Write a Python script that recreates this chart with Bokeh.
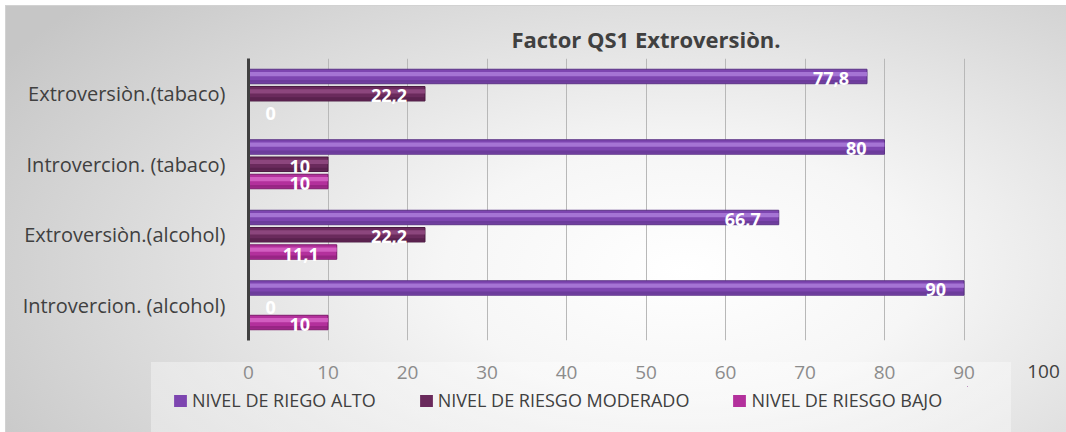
from bokeh.plotting import figure
from bokeh.layouts import column
from bokeh.models import (ColumnDataSource, FactorRange, Legend, LegendItem, LinearAxis,
                          FixedTicker, Title)
from bokeh.transform import dodge
from bokeh.core.properties import value
from bokeh.embed import file_html
from bokeh.resources import INLINE

# ---------------- data ----------------
categories = ["Introvercion. (alcohol)", "Extroversiòn.(alcohol)",
              "Introvercion. (tabaco)", "Extroversiòn.(tabaco)"]
riesgo_alto = [90, 66.7, 80, 77.8]
riesgo_moderado = [0, 22.2, 10, 22.2]
riesgo_bajo = [10, 11.1, 10, 0]
series_names = ["NIVEL DE RIEGO ALTO", "NIVEL DE RIESGO MODERADO", "NIVEL DE RIESGO BAJO"]
x_ticks_in_box = [0, 10, 20, 30, 40, 50, 60, 70, 80, 90]
x_ticks_outside = [100]
title_text = "Factor QS1 Extroversiòn."

# ---------------- styles ----------------
FONT = "Open Sans"
styles = [
    # base, edge, highlight, dodge offset
    ("#7d45b0", "#5b3385", "#b384e0", 0.245),
    ("#6a2a5c", "#4a1a40", "#985088", 0.0),
    ("#b3309c", "#7d1a6c", "#dc6ccc", -0.245),
]
BAR_H = 0.205

def fmt(v):
    return ("%g" % v).replace(".", ",")

p = figure(width=1066, height=386, frame_width=795, frame_height=282,
           y_range=FactorRange(*categories), x_range=(0, 100),
           output_backend="svg", toolbar_location=None,
           min_border_left=248, min_border_right=23, min_border_top=58, min_border_bottom=46)
p.border_fill_color = None
p.background_fill_color = None
p.outline_line_color = None

t = Title(text=title_text, align="center", text_font=FONT, text_font_size="22px",
          text_font_style="bold", text_color="#404040", standoff=9)
p.add_layout(t, "above")

# legend strip below the chart
pl = figure(width=1066, height=46, x_range=(0, 1), y_range=(0, 1),
            x_axis_type=None, y_axis_type=None, output_backend="svg", toolbar_location=None,
            min_border=0, min_border_left=0, min_border_right=0, min_border_top=0, min_border_bottom=0)
pl.border_fill_color = None
pl.background_fill_color = None
pl.outline_line_color = None
pl.grid.visible = False
pl.styles = {"transform": "translateX(-76px)"}

legend_items = []
for vals, name, (base, edge, hi, off) in zip([riesgo_alto, riesgo_moderado, riesgo_bajo], series_names, styles):
    src = ColumnDataSource(dict(
        cat=categories, val=vals,
        lbl=[fmt(v) for v in vals],
        align=["left" if v == 0 else "right" for v in vals],
        xoff=[17 if v == 0 else -18 for v in vals],
    ))
    p.hbar(y=dodge("cat", off, range=p.y_range), right="val", left=0, height=BAR_H, source=src,
           fill_color=base, line_color=edge, line_width=1)
    p.hbar(y=dodge("cat", off + 0.035, range=p.y_range), right="val", left=0, height=0.06, source=src,
           fill_color=hi, fill_alpha=0.75, line_color=None)
    p.hbar(y=dodge("cat", off - 0.07, range=p.y_range), right="val", left=0, height=0.04, source=src,
           fill_color=edge, fill_alpha=0.5, line_color=None)
    p.text(x="val", y=dodge("cat", off, range=p.y_range), text="lbl", source=src,
           text_align="align", x_offset="xoff", y_offset=2, text_baseline="middle",
           text_color="white", text_font=value(FONT), text_font_style="bold", text_font_size="18px")
    # key swatch renderer: zero-size bars from the same data, only used for the legend key
    r = pl.hbar(y="val", left="val", right="val", height=0, source=src,
                fill_color=base, line_color=None)
    legend_items.append(LegendItem(label=name, renderers=[r]))

legend = Legend(items=legend_items, orientation="horizontal", location=(0, 20),
                background_fill_alpha=0, border_line_color=None, padding=0, margin=0,
                spacing=42, label_standoff=4, glyph_width=16, glyph_height=15,
                label_text_font=FONT, label_text_font_size="18px", label_text_color="#404040")
pl.add_layout(legend, "center")

# axes
p.xaxis.ticker = FixedTicker(ticks=x_ticks_in_box)
p.xaxis.axis_line_color = None
p.xaxis.major_tick_line_color = None
p.xaxis.minor_tick_line_color = None
p.xaxis.major_label_standoff = 19
p.xaxis.major_label_text_font = FONT
p.xaxis.major_label_text_font_size = "19px"
p.xaxis.major_label_text_color = "#8c8c8c"

ax100 = LinearAxis(ticker=FixedTicker(ticks=x_ticks_outside), axis_line_color=None,
                   major_tick_line_color=None, minor_tick_line_color=None,
                   major_label_standoff=-23, major_label_text_font=FONT,
                   major_label_text_font_size="19px", major_label_text_color="#404040")
p.add_layout(ax100, "below")

p.yaxis.axis_line_color = "#404040"
p.yaxis.axis_line_width = 3
p.yaxis.major_tick_line_color = None
p.yaxis.minor_tick_line_color = None
p.yaxis.major_label_standoff = 17
p.yaxis.major_label_text_font = FONT
p.yaxis.major_label_text_font_size = "20px"
p.yaxis.major_label_text_color = "#404040"

p.ygrid.grid_line_color = None
p.xgrid.ticker = FixedTicker(ticks=x_ticks_in_box + x_ticks_outside)
p.xgrid.grid_line_color = "#b8b8b8"
p.xgrid.grid_line_width = 1

layout = column(p, pl, spacing=0, width=1066, height=432)
layout.styles = {
    "background": ("linear-gradient(rgba(255,255,255,0.36), rgba(255,255,255,0.36)) 151px 362px / 860px 70px no-repeat, "
                   "linear-gradient(#d2d2d2, #d2d2d2) 5px 5px / calc(100% - 5px) 1px no-repeat, "
                   "linear-gradient(#d2d2d2, #d2d2d2) 5px 5px / 1px calc(100% - 5px) no-repeat, "
                   "radial-gradient(ellipse 75% 95% at 64% 62%, #ffffff 0%, #f6f6f6 30%, #c6c6c6 100%) 5px 5px / calc(100% - 5px) calc(100% - 5px) no-repeat, "
                   "#ffffff"),
}

open("out.html", "w").write(file_html(layout, INLINE))
